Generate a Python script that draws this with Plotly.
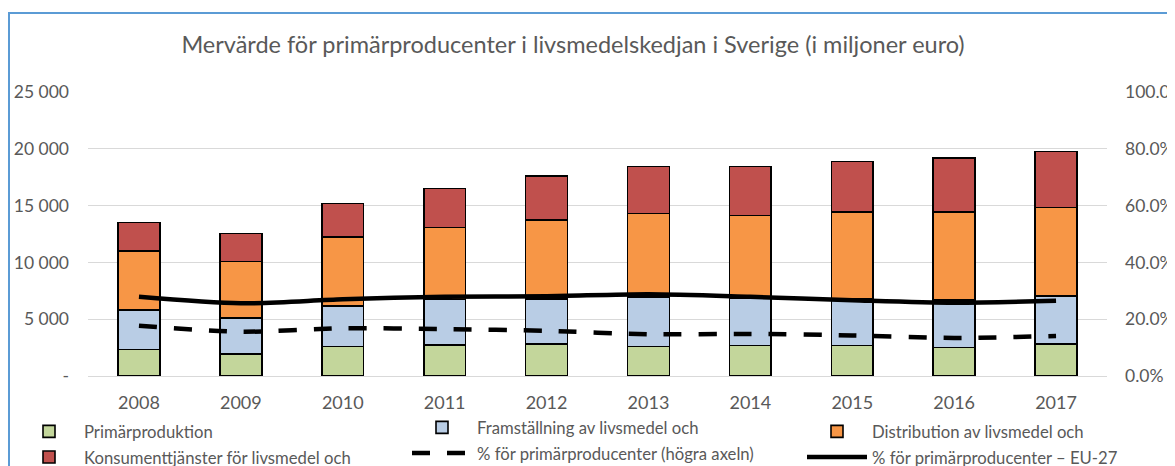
import plotly.graph_objects as go

years = ["2008", "2009", "2010", "2011", "2012", "2013", "2014", "2015", "2016", "2017"]
primarproduktion = [2350, 1930, 2580, 2720, 2810, 2580, 2670, 2690, 2520, 2810]
framstallning = [3450, 3200, 3600, 4020, 3950, 4390, 4160, 4140, 4160, 4250]
distribution = [5200, 4950, 6060, 6330, 6970, 7330, 7290, 7610, 7760, 7760]
konsumenttjanster = [2500, 2450, 2930, 3420, 3890, 4150, 4330, 4450, 4750, 4950]
andel_sverige = [0.177, 0.156, 0.168, 0.165, 0.159, 0.147, 0.148, 0.143, 0.134, 0.141]
andel_eu27 = [0.279, 0.256, 0.270, 0.279, 0.281, 0.288, 0.279, 0.267, 0.258, 0.265]

left_tickvals = [0, 5000, 10000, 15000, 20000, 25000]
left_ticktext = ["-", "5 000", "10 000", "15 000", "20 000", "25 000"]
right_tickvals = [0, 0.2, 0.4, 0.6, 0.8, 1.0]

FONT = "Lato"
GREY = "#595959"

fig = go.Figure()

bar_line = dict(color="black", width=1.6)
fig.add_trace(go.Bar(x=years, y=primarproduktion, name="Primärproduktion",
                     marker=dict(color="#C3D69B", line=bar_line), legend="legend", legendgroup="a"))
fig.add_trace(go.Bar(x=years, y=framstallning, name="Framställning av livsmedel och",
                     marker=dict(color="#B9CDE5", line=bar_line), legend="legend2", legendgroup="b"))
fig.add_trace(go.Bar(x=years, y=distribution, name="Distribution av livsmedel och",
                     marker=dict(color="#F79646", line=bar_line), legend="legend3", legendgroup="c"))
fig.add_trace(go.Bar(x=years, y=konsumenttjanster, name="Konsumenttjänster för livsmedel och",
                     marker=dict(color="#C0504D", line=bar_line), legend="legend", legendgroup="d"))
fig.add_trace(go.Scatter(x=years, y=andel_sverige, name="% för primärproducenter (högra axeln)",
                         mode="lines", yaxis="y2",
                         line=dict(color="black", width=4.5, dash="18px,17px", shape="spline", smoothing=0.8),
                         legend="legend2", legendgroup="e"))
fig.add_trace(go.Scatter(x=years, y=andel_eu27, name="% för primärproducenter – EU-27",
                         mode="lines", yaxis="y2",
                         line=dict(color="black", width=4.5, shape="spline", smoothing=0.8),
                         legend="legend3", legendgroup="f"))

# page body has an 8px margin: reference pixel p -> figure pixel p - 8
OFF = 8
W, H = 1167, 458
L, R, T, B = 80, 68, 84, 90
pw = W - L - R
ph = H - T - B


def px_x(x):
    return (x - OFF - L) / pw


def px_y(y):
    return (H - B - (y - OFF)) / ph


legend_common = dict(orientation="v", font=dict(family=FONT, size=16.7, color=GREY),
                     bgcolor="rgba(0,0,0,0)", itemwidth=60, traceorder="grouped",
                     xanchor="left", yanchor="top", tracegroupgap=1, itemclick=False,
                     borderwidth=0)

border = dict(color="#5B9BD5", width=2)

fig.update_layout(
    width=W, height=H,
    margin=dict(l=L, r=R, t=T, b=B, autoexpand=False),
    paper_bgcolor="white", plot_bgcolor="white",
    barmode="stack", bargap=0.59,
    font=dict(family=FONT, color=GREY),
    title=dict(text="Mervärde för primärproducenter i livsmedelskedjan i Sverige (i miljoner euro)",
               x=(573 - OFF) / W, xanchor="center", y=1 - (45 - OFF) / H, yanchor="middle",
               font=dict(family=FONT, size=23.5, color=GREY)),
    xaxis=dict(type="category", showgrid=False, showline=True, linecolor="#D9D9D9", linewidth=1.3,
               ticks="", tickfont=dict(family=FONT, size=18, color=GREY), ticklabelstandoff=10),
    yaxis=dict(range=[0, 25000], tickvals=left_tickvals, ticktext=left_ticktext,
               showgrid=True, gridcolor="#D9D9D9", gridwidth=1.3, zeroline=False, showline=False,
               tickfont=dict(family=FONT, size=17.5, color=GREY), ticklabelstandoff=18),
    yaxis2=dict(range=[0, 1], tickvals=right_tickvals, tickformat=".1%", overlaying="y", side="right",
                showgrid=False, zeroline=False, showline=False,
                tickfont=dict(family=FONT, size=17.5, color=GREY), ticklabelstandoff=17),
    legend=dict(x=px_x(86 - 72), y=px_y(414), **legend_common),
    legend2=dict(x=px_x(479 - 72), y=px_y(410), **legend_common),
    legend3=dict(x=px_x(874 - 72), y=px_y(414), **legend_common),
    shapes=[
        dict(type="line", xref="paper", yref="paper", x0=px_x(OFF + 1), x1=px_x(OFF + 1),
             y0=px_y(13), y1=px_y(480), line=border),
        dict(type="line", xref="paper", yref="paper", x0=px_x(OFF), x1=px_x(1173),
             y0=px_y(13), y1=px_y(13), line=border),
        dict(type="line", xref="paper", yref="paper", x0=px_x(1173), x1=px_x(1173),
             y0=px_y(13), y1=px_y(480), line=border),
    ],
    showlegend=True,
)

fig.write_html("out.html")
